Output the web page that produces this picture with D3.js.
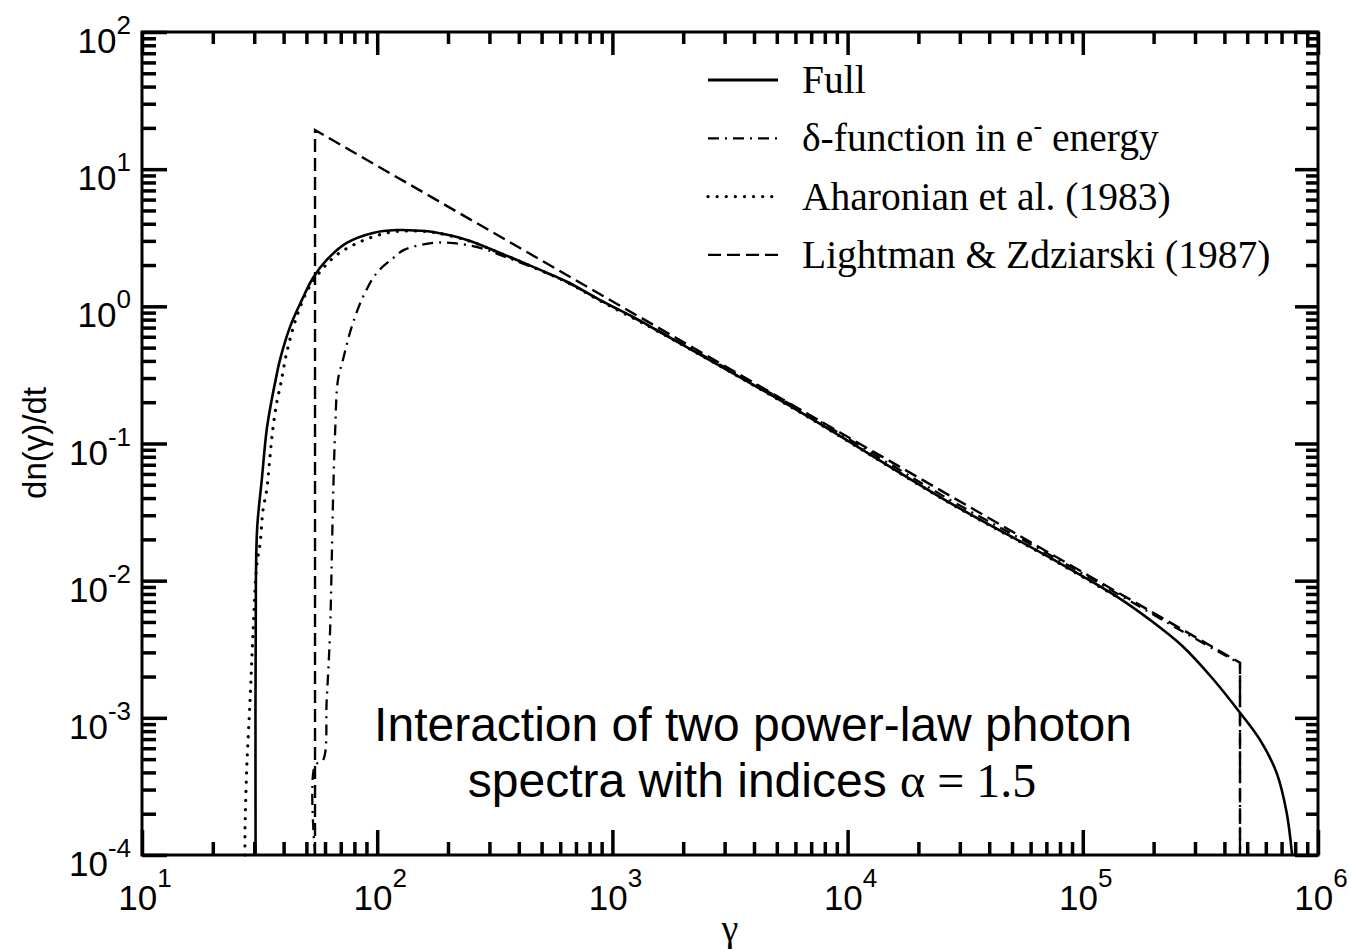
<!DOCTYPE html>
<html>
<head>
<meta charset="utf-8">
<script src="https://cdn.jsdelivr.net/npm/d3@7"></script>
<style>
  body { margin: 0; background: #fff; }
</style>
</head>
<body>
<div id="chart"></div>
<script>
// values: [gamma, dn/dt]
const fullData = [
  [30.4, 1e-4], [30.5, 0.0101], [30.9, 0.0247], [32.3, 0.0543], [33.9, 0.126],
  [35.6, 0.208], [37.0, 0.291], [38.6, 0.407], [42.6, 0.708], [47.8, 1.11],
  [53.3, 1.61], [61.0, 2.18], [74.2, 2.90], [95.9, 3.43], [121, 3.60],
  [152, 3.56], [173, 3.48], [241, 3.05], [333, 2.45], [460, 1.94],
  [641, 1.51], [886, 1.11], [1224, 0.837], [1594, 0.650], [6276, 0.170],
  [27260, 0.0369], [72530, 0.0147], [1.40e5, 7.62e-3], [1.93e5, 5.18e-3],
  [2.67e5, 3.30e-3], [3.54e5, 1.96e-3], [4.66e5, 1.09e-3], [5.67e5, 6.9e-4],
  [6.67e5, 3.97e-4], [7.36e5, 2.03e-4], [7.76e5, 1e-4]
]
const deltaData = [
  [54.4, 1e-4], [54.4, 4.5e-4], [58.8, 4.9e-4], [61.0, 1.35e-3], [63.0, 4.17e-3],
  [64.0, 0.0126], [64.9, 0.0388], [66.2, 0.119], [68.1, 0.291], [71.5, 0.407],
  [77.9, 0.708], [87.0, 1.17], [99.5, 1.75], [117, 2.25], [130, 2.58],
  [173, 2.90], [204, 2.90], [241, 2.80], [293, 2.58], [333, 2.37],
  [460, 1.92], [641, 1.50], [886, 1.11], [1594, 0.652], [6276, 0.176],
  [27260, 0.0388], [72530, 0.0154], [2.67e5, 4.24e-3], [4.66e5, 2.48e-3],
  [4.66e5, 1e-4]
]
const aharonianData = [
  [27.4, 1e-4], [27.4, 1.45e-4], [27.9, 4.4e-4], [28.8, 1.35e-3], [29.65, 4.17e-3],
  [30.7, 0.0126], [31.8, 0.0189], [32.7, 0.0328], [33.9, 0.0459], [35.0, 0.0798],
  [36.1, 0.132], [37.4, 0.198], [38.9, 0.272], [41.2, 0.457], [44.7, 0.769],
  [50.1, 1.27], [57.1, 1.78], [67.3, 2.37], [84.5, 2.95], [110, 3.43],
  [140, 3.55], [173, 3.46], [241, 3.03], [333, 2.44], [460, 1.93],
  [641, 1.50], [886, 1.10], [1594, 0.645], [6276, 0.169], [27260, 0.0367],
  [72530, 0.0146], [1.4e5, 7.6e-3]
]
const lightmanData = [
  [54.4, 1e-4], [54.4, 19.3], [4.66e5, 2.52e-3], [4.66e5, 1e-4]
]
const legendLabels = ["Full", "δ-function in e", "Aharonian et al. (1983)", "Lightman & Zdziarski (1987)"]
const xDomain = [10, 1e6]
const yDomain = [1e-4, 1e2]

const width = 1351, height = 952
const margin = {top: 32, right: 33, bottom: 97, left: 142}
const sans = "'Liberation Sans', Arial, sans-serif"
const serif = "'Liberation Serif', 'Times New Roman', serif"

const svg = d3.select("#chart")
  .append("svg")
  .attr("width", width)
  .attr("height", height)
  .style("background", "#fff")

x = d3.scaleLog().domain(xDomain).range([margin.left, width - margin.right])
y = d3.scaleLog().domain(yDomain).range([height - margin.bottom, margin.top])

isMajor = d => Math.abs(Math.log10(d) - Math.round(Math.log10(d))) < 1e-9
xMajor = x.ticks().filter(isMajor)
xMinor = x.ticks().filter(d => !isMajor(d))
yMajor = y.ticks().filter(isMajor)
yMinor = y.ticks().filter(d => !isMajor(d))

function ticks(axis, transform, vals, size) {
  svg.append("g")
    .attr("transform", transform)
    .call(axis.tickValues(vals).tickSize(size).tickSizeOuter(0).tickFormat(""))
    .call(g => g.select(".domain").remove())
    .selectAll("line")
      .attr("stroke", "#000")
      .attr("stroke-width", 3.5)
}
const bottom = height - margin.bottom, right = width - margin.right
ticks(d3.axisBottom(x), `translate(0,${bottom})`, xMinor, -13)
ticks(d3.axisBottom(x), `translate(0,${bottom})`, xMajor, -25)
ticks(d3.axisTop(x), `translate(0,${margin.top})`, xMinor, -12)
ticks(d3.axisTop(x), `translate(0,${margin.top})`, xMajor, -23)
ticks(d3.axisLeft(y), `translate(${margin.left},0)`, yMinor, -14)
ticks(d3.axisLeft(y), `translate(${margin.left},0)`, yMajor, -25)
ticks(d3.axisRight(y), `translate(${right},0)`, yMinor, -12)
ticks(d3.axisRight(y), `translate(${right},0)`, yMajor, -23)

// frame
svg.append("rect")
  .attr("x", margin.left).attr("y", margin.top)
  .attr("width", right - margin.left).attr("height", bottom - margin.top)
  .attr("fill", "none").attr("stroke", "#000").attr("stroke-width", 3)

// tick labels 10^n
const xl = svg.append("g").attr("font-family", sans).attr("fill", "#000")
  .selectAll("text").data(xMajor).join("text")
  .attr("x", d => x(d) + 3).attr("y", bottom + 55)
  .attr("text-anchor", "middle")
xl.append("tspan").attr("font-size", 35).text("10")
xl.append("tspan").attr("font-size", 26).attr("dy", -23).text(d => Math.round(Math.log10(d)))

const yl = svg.append("g").attr("font-family", sans).attr("fill", "#000")
  .selectAll("text").data(yMajor).join("text")
  .attr("x", 131).attr("y", d => y(d) + 21)
  .attr("text-anchor", "end")
yl.append("tspan").attr("font-size", 35).text("10")
yl.append("tspan").attr("font-size", 26).attr("dy", -19).text(d => Math.round(Math.log10(d)))

// axis titles
svg.append("text")
  .attr("transform", "translate(46,443) rotate(-90)")
  .attr("text-anchor", "middle")
  .attr("font-family", sans)
  .attr("font-size", 33)
  .text("dn(γ)/dt")

svg.append("text")
  .attr("x", 730).attr("y", 941)
  .attr("text-anchor", "middle")
  .attr("font-family", serif)
  .attr("font-size", 38)
  .text("γ")

// curves
const smooth = d3.line().x(d => x(d[0])).y(d => y(d[1])).curve(d3.curveCatmullRom.alpha(0.5))
const straight = d3.line().x(d => x(d[0])).y(d => y(d[1]))

const styles = [
  {dash: null, w: 2.6, cap: "butt"},
  {dash: "11,6,2,6", w: 2.3, cap: "butt"},
  {dash: "0.1,9", w: 3.2, cap: "round"},
  {dash: "13,6", w: 2.4, cap: "butt"}
]

svg.append("path").datum(lightmanData)
  .attr("fill", "none").attr("stroke", "#000")
  .attr("stroke-width", styles[3].w).attr("stroke-dasharray", styles[3].dash)
  .attr("d", straight)

// smooth body, straight drop at the cutoff
const nD = deltaData.length
svg.append("path").datum(deltaData)
  .attr("fill", "none").attr("stroke", "#000")
  .attr("stroke-width", styles[1].w).attr("stroke-dasharray", styles[1].dash)
  .attr("d", d => smooth(d.slice(0, nD - 1)) + straight(d.slice(nD - 2)).replace(/^M[^L]*/, ""))

svg.append("path").datum(aharonianData)
  .attr("fill", "none").attr("stroke", "#000")
  .attr("stroke-width", styles[2].w).attr("stroke-dasharray", styles[2].dash)
  .attr("stroke-linecap", "round")
  .attr("d", smooth)

svg.append("path").datum(fullData)
  .attr("fill", "none").attr("stroke", "#000")
  .attr("stroke-width", styles[0].w)
  .attr("d", smooth)

// legend
const legend = svg.append("g").attr("transform", "translate(708,80)")
legendLabels.forEach((label, i) => {
  const row = legend.append("g").attr("transform", `translate(0,${i * 58.3})`)
  row.append("line")
    .attr("x1", 0).attr("x2", 70).attr("y1", 0).attr("y2", 0)
    .attr("stroke", "#000")
    .attr("stroke-width", i == 0 ? 3 : styles[i].w)
    .attr("stroke-dasharray", styles[i].dash)
    .attr("stroke-linecap", styles[i].cap)
  const t = row.append("text")
    .attr("x", 94).attr("y", 13)
    .attr("font-family", serif)
    .attr("font-size", 39.5)
    .text(label)
  if (i == 1) {
    t.append("tspan").attr("font-size", 26).attr("dy", -17).text("-")
    t.append("tspan").attr("dy", 17).text(" energy")
  }
})

// annotation
const note = svg.append("text")
  .attr("x", 753).attr("y", 741)
  .attr("text-anchor", "middle")
  .attr("font-family", sans)
  .attr("font-size", 48)
  .text("Interaction of two power-law photon")

const note2 = svg.append("text")
  .attr("x", 752).attr("y", 797)
  .attr("text-anchor", "middle")
  .attr("font-family", sans)
  .attr("font-size", 48)
note2.append("tspan").text("spectra with indices ")
note2.append("tspan").attr("font-family", serif).text("α = 1.5")
</script>
</body>
</html>
